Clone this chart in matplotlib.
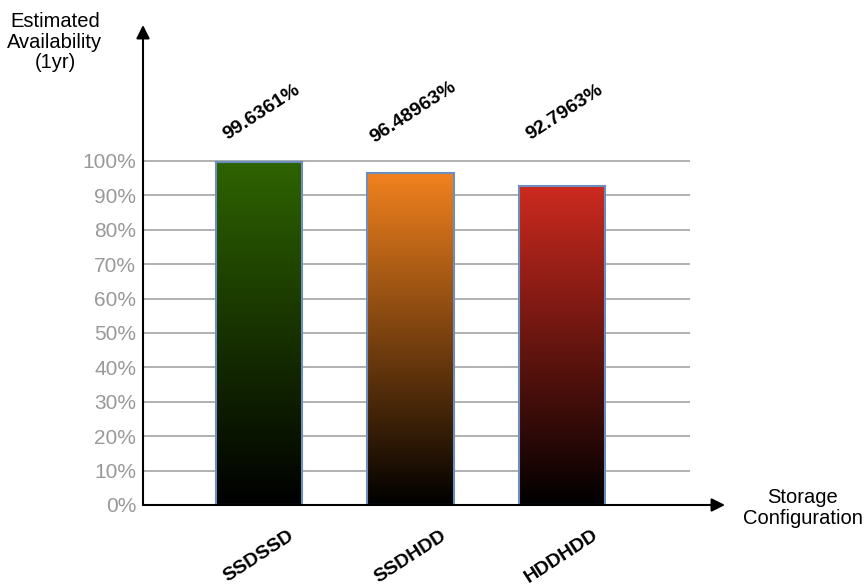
import numpy as np
import matplotlib.pyplot as plt
from matplotlib.colors import LinearSegmentedColormap
from matplotlib.patches import Rectangle

plt.rcParams['font.family'] = ['Liberation Sans', 'DejaVu Sans']

# availability per storage configuration, in percent
configs = ['SSDSSD', 'SSDHDD', 'HDDHDD']
availability = [99.6361, 96.48963, 92.7963]
value_labels = ['99.6361%', '96.48963%', '92.7963%']
bar_colors = ['#2e6300', '#f2821e', '#cd2a1f']
ytick_values = list(range(0, 101, 10))

fig = plt.figure(figsize=(8.66, 5.85), dpi=100)
# axes box in figure pixels: x 143..725, y 25..505 (from top)
W, H = 866.0, 585.0
ax = fig.add_axes([143 / W, (H - 505) / H, (725 - 143) / W, (505 - 25) / H])

xmin, xmax = -0.766, 3.076
ymax = 139.5
ax.set_xlim(xmin, xmax)
ax.set_ylim(0, ymax)
for s in ax.spines.values():
    s.set_visible(False)
ax.set_xticks([])
ax.set_yticks(ytick_values)
ax.set_yticklabels(['%d%%' % v for v in ytick_values], color='#999999', fontsize=15)
ax.tick_params(axis='y', length=0, pad=5)

# horizontal grid lines
ax.hlines(ytick_values[1:], xmin, 2.845, color='#aaaaaa', lw=1.3, zorder=1)

# bars with a vertical gradient fading to black
width = 0.57
grad = np.linspace(0, 1, 256).reshape(-1, 1)
for i, (val, col) in enumerate(zip(availability, bar_colors)):
    cmap = LinearSegmentedColormap.from_list('g%d' % i, ['#000000', col])
    x0 = i - width / 2
    im = ax.imshow(grad, cmap=cmap, origin='lower', aspect='auto',
                   extent=[x0, x0 + width, 0, val], zorder=2)
    rect = Rectangle((x0, 0), width, val, facecolor='none',
                     edgecolor='#6c8ebf', lw=1.5, zorder=3)
    ax.add_patch(rect)
    im.set_clip_path(rect)
    # value labels sit on a common line above the chart
    ax.text(i + 0.02, 114.2, value_labels[i], rotation=33, ha='center',
            va='center', fontsize=14, fontweight='bold', rotation_mode='anchor')
    ax.text(i, -15, configs[i], rotation=33, ha='center', va='center',
            fontsize=14, fontweight='bold', rotation_mode='anchor')

ax.set_xlim(xmin, xmax)
ax.set_ylim(0, ymax)

# axis arrows
ax.annotate('', xy=(0, 1), xytext=(0, 0), xycoords='axes fraction',
            arrowprops=dict(arrowstyle='-|>', color='black', lw=1.5,
                            mutation_scale=20, shrinkA=0, shrinkB=0))
ax.annotate('', xy=(1, 0), xytext=(0, 0), xycoords='axes fraction',
            arrowprops=dict(arrowstyle='-|>', color='black', lw=1.5,
                            mutation_scale=20, shrinkA=0, shrinkB=0))

fig.text(55 / W, 1 - 42 / H, 'Estimated\nAvailability\n(1yr)', ha='center',
         va='center', fontsize=14.5, linespacing=1.1)
fig.text(803 / W, 1 - 508 / H, 'Storage\nConfiguration', ha='center',
         va='center', fontsize=14.5, linespacing=1.1)

fig.savefig('out.png', dpi=100)
